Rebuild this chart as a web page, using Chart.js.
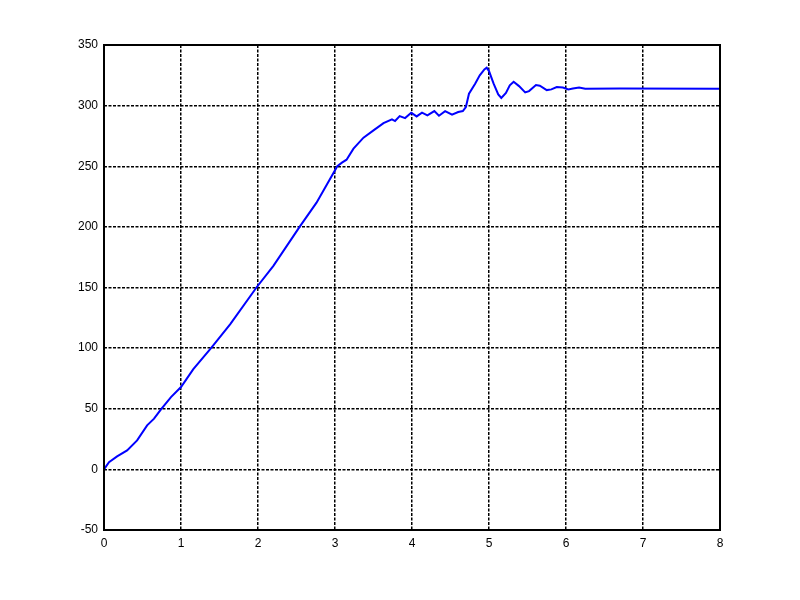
<!DOCTYPE html>
<html>
<head>
<meta charset="utf-8">
<script src="https://cdn.jsdelivr.net/npm/chart.js@4.4.1/dist/chart.umd.min.js"></script>
<style>
  html, body { margin: 0; padding: 0; background: #fff; }
  #wrap { width: 800px; height: 600px; }
</style>
</head>
<body>
<div id="wrap"><canvas id="chart" width="800" height="600"></canvas></div>
<script>
// values
const timeValues = [0, 0.065, 0.17, 0.3, 0.43, 0.56, 0.65, 0.74, 0.87, 1.0, 1.06, 1.16, 1.39, 1.64, 1.98,
    2.2, 2.54, 2.76, 3.03, 3.09, 3.15, 3.24, 3.37, 3.5, 3.63, 3.74, 3.78, 3.84, 3.91, 3.99, 4.06, 4.13,
    4.2, 4.29, 4.35, 4.43, 4.52, 4.6, 4.66, 4.7, 4.74, 4.82, 4.88, 4.94, 4.97, 5.0, 5.06, 5.12, 5.16,
    5.22, 5.27, 5.32, 5.39, 5.47, 5.52, 5.61, 5.66, 5.75, 5.81, 5.88, 5.96, 6.03, 6.09, 6.17, 6.25, 6.7, 8];
const signalValues = [0, 6, 10.7, 15.6, 23.9, 36.3, 41.8, 49.5, 59.6, 67.9, 73.4, 82.7, 100, 119.8, 150,
    167.9, 200, 220, 250, 253, 255.4, 264.5, 273.6, 279.6, 285.6, 288.7, 287.3, 291.4, 289.7, 294.2, 291.1, 294.2,
    292, 295.5, 291.7, 295.5, 292.5, 294.7, 295.5, 298.8, 309.8, 318.1, 325, 329.9, 331.3, 328.5, 318.1, 309.3, 306.3,
    310.4, 316.7, 319.7, 316.1, 310.9, 312, 317, 316.4, 312.8, 313.4, 315.3, 315, 313.4, 314.2, 315, 314, 314.2, 314];

const xTicks = [0, 1, 2, 3, 4, 5, 6, 7, 8];
const yTicks = [-50, 0, 50, 100, 150, 200, 250, 300, 350];

const points = timeValues.map((t, i) => ({ x: t, y: signalValues[i] }));

const tickFont = { family: 'Liberation Sans', size: 12 };

// solid black box round the plot area
const frame = {
    id: 'frame',
    afterDraw(chart) {
        const a = chart.chartArea;
        const ctx = chart.ctx;
        ctx.save();
        ctx.strokeStyle = '#000';
        ctx.lineWidth = 2;
        ctx.strokeRect(a.left, a.top, a.right - a.left, a.bottom - a.top);
        ctx.restore();
    }
};

new Chart(document.getElementById('chart'), {
    type: 'line',
    data: {
        datasets: [{
            data: points,
            borderColor: '#0000ff',
            borderWidth: 2,
            pointRadius: 0,
            tension: 0,
            fill: false
        }]
    },
    options: {
        responsive: false,
        animation: false,
        layout: { padding: { left: 0, top: 45, right: 80, bottom: 0 } },
        plugins: { legend: { display: false }, tooltip: { enabled: false } },
        scales: {
            x: {
                type: 'linear',
                min: 0, max: 8,
                afterBuildTicks: s => { s.ticks = xTicks.map(v => ({ value: v })); },
                afterFit: s => { s.height = 70; },
                grid: { color: '#000', lineWidth: 1.5, drawTicks: false },
                border: { display: false, dash: [3, 1.5] },
                ticks: { color: '#000', font: tickFont, padding: 6, maxRotation: 0 }
            },
            y: {
                type: 'linear',
                min: -50, max: 350,
                afterBuildTicks: s => { s.ticks = yTicks.map(v => ({ value: v })); },
                afterFit: s => { s.width = 104; },
                grid: { color: '#000', lineWidth: 1.5, drawTicks: false },
                border: { display: false, dash: [3, 1.5] },
                ticks: { color: '#000', font: tickFont, padding: 6 }
            }
        }
    },
    plugins: [frame]
});
</script>
</body>
</html>
